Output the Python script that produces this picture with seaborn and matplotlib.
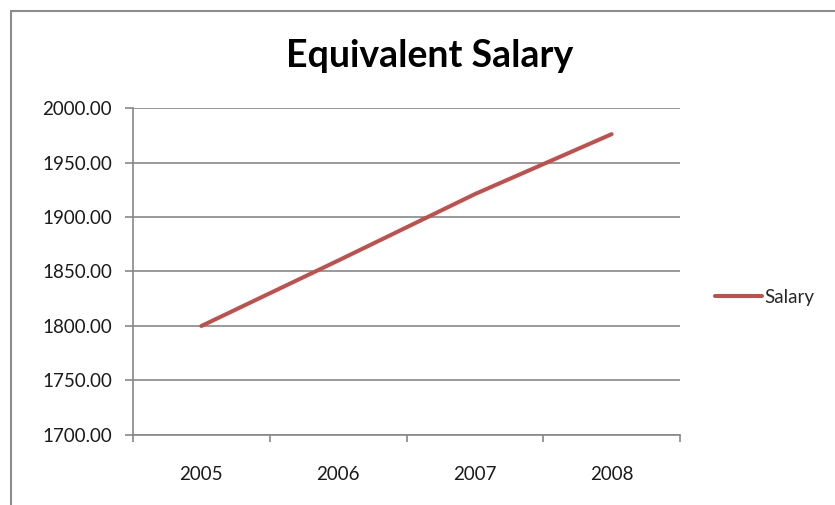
import matplotlib
matplotlib.use("Agg")
import matplotlib.pyplot as plt
import seaborn as sns
import pandas as pd
from matplotlib.patches import Rectangle
from matplotlib.ticker import FixedLocator, FormatStrFormatter, NullFormatter

years = ["2005", "2006", "2007", "2008"]
salary = [1800.0, 1860.0, 1921.0, 1976.0]
series_name = "Salary"
title = "Equivalent Salary"
y_ticks = [1700, 1750, 1800, 1850, 1900, 1950, 2000]

df = pd.DataFrame({"Year": years, series_name: salary})

sns.set_style("white")
plt.rcParams["font.family"] = ["Lato", "DejaVu Sans"]

W, H = 835, 505
fig = plt.figure(figsize=(W / 100, H / 100), dpi=100)
ax = fig.add_axes([133 / W, 1 - 435 / H, (680 - 133) / W, (435 - 108) / H])

sns.lineplot(data=df, x="Year", y=series_name, ax=ax, color="#C0504D",
             linewidth=2.9, label=series_name, sort=False)

grid_c = "#888888"
fs = 13.5
ax.set_ylim(1700, 2000)
ax.set_yticks(y_ticks)
ax.yaxis.set_major_formatter(FormatStrFormatter("%.2f"))
ax.set_xlim(-0.5, len(years) - 0.5)
ax.xaxis.set_major_locator(FixedLocator([i - 0.5 for i in range(len(years) + 1)]))
ax.xaxis.set_major_formatter(NullFormatter())
ax.xaxis.set_minor_locator(FixedLocator(list(range(len(years)))))
ax.set_xticklabels(years, minor=True)
ax.tick_params(axis="x", which="major", length=5, width=1.2, color=grid_c, direction="out", bottom=True)
ax.tick_params(axis="x", which="minor", length=0, pad=22, labelsize=fs, labelcolor="#1a1a1a")
ax.tick_params(axis="y", which="major", length=6, width=1.2, color=grid_c, direction="out", left=True,
               pad=9, labelsize=fs, labelcolor="#1a1a1a")
ax.set_xlabel("")
ax.set_ylabel("")
ax.grid(axis="y", color=grid_c, linewidth=1.2)
ax.grid(axis="x", visible=False)
for s in ["top", "right"]:
    ax.spines[s].set_visible(False)
for s in ["left", "bottom"]:
    ax.spines[s].set_color(grid_c)
    ax.spines[s].set_linewidth(1.2)
ax.set_axisbelow(True)

ax.legend(loc="center left", bbox_to_anchor=(715 / W, 1 - 297 / H), bbox_transform=fig.transFigure,
          frameon=False, fontsize=fs, handlelength=2.5, handletextpad=0.15, borderaxespad=0, borderpad=0)

fig.text((283 + 577) / 2 / W, 1 - 56 / H, title, ha="center", va="center",
         fontsize=27, fontweight="bold", color="black")

fig.patches.append(Rectangle((11 / W, -0.1), 2, 1 - 11 / H + 0.1, transform=fig.transFigure,
                             fill=False, edgecolor="#8c8c8c", linewidth=1.5))

fig.savefig("out.png", dpi=100, facecolor="white")
